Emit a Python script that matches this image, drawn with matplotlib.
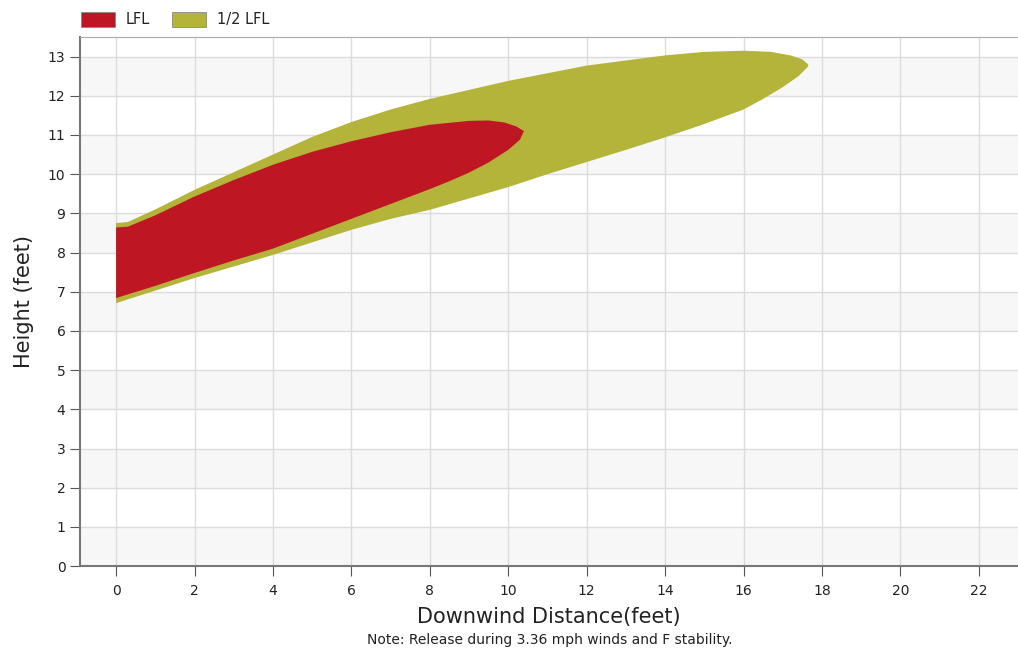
import numpy as np
import matplotlib.pyplot as plt
from matplotlib.patches import Rectangle

# LFL 플룸 경계 (downwind distance, height)
lfl_top_x = [0, 0.3, 1, 2, 3, 4, 5, 6, 7, 8, 9, 9.5, 9.9, 10.2, 10.4]
lfl_top_y = [8.64, 8.66, 8.95, 9.43, 9.85, 10.24, 10.57, 10.84, 11.07, 11.26, 11.36, 11.37, 11.32, 11.22, 11.1]
lfl_bot_x = [0, 1, 2, 3, 4, 5, 6, 7, 8, 8.5, 9, 9.5, 10, 10.3]
lfl_bot_y = [6.84, 7.15, 7.48, 7.8, 8.1, 8.48, 8.86, 9.24, 9.62, 9.82, 10.04, 10.3, 10.62, 10.88]

# 1/2 LFL 플룸 경계
half_top_x = [0, 0.3, 1, 2, 3, 4, 5, 6, 7, 8, 10, 12, 14, 15, 16, 16.7, 17.2, 17.5, 17.65]
half_top_y = [8.75, 8.78, 9.1, 9.6, 10.05, 10.5, 10.95, 11.33, 11.65, 11.92, 12.38, 12.77, 13.03, 13.12, 13.15, 13.12, 13.03, 12.93, 12.8]
half_bot_x = [0, 1, 2, 4, 6, 7, 8, 9, 10, 11, 12, 13, 14, 15, 16, 16.5, 17, 17.4, 17.65]
half_bot_y = [6.71, 7.03, 7.35, 7.94, 8.58, 8.86, 9.09, 9.38, 9.67, 10.0, 10.31, 10.62, 10.94, 11.28, 11.65, 11.92, 12.22, 12.5, 12.75]

xticks = np.arange(0, 23, 2)
yticks = np.arange(0, 14, 1)
legend_labels = ['LFL', '1/2 LFL']

red = '#BE1723'
olive = '#B4B33A'

fig = plt.figure(figsize=(10.18, 6.56), dpi=100)
ax = fig.add_axes([0.0786, 0.137, 0.9214, 0.8066])

# 줄무늬 배경
for y0 in range(0, 13, 2):
    ax.axhspan(y0, y0 + 1, color='#f7f7f7', zorder=0, lw=0)
ax.grid(True, color='#dcdcdc', lw=1, zorder=1)
ax.set_axisbelow(True)

ax.fill(half_top_x + half_bot_x[::-1], half_top_y + half_bot_y[::-1],
        color=olive, lw=0, zorder=2)
ax.fill(lfl_top_x + lfl_bot_x[::-1], lfl_top_y + lfl_bot_y[::-1],
        color=red, lw=0, zorder=3)

ax.set_xlim(-0.92, 23)
ax.set_ylim(0, 13.5)
ax.set_xticks(xticks)
ax.set_yticks(yticks)
ax.tick_params(axis='both', labelsize=10, length=7, color='#555555', labelcolor='#222222')
ax.tick_params(axis='x', pad=6)

for s in ['left', 'bottom']:
    ax.spines[s].set_color('#777777')
    ax.spines[s].set_linewidth(1.5)
ax.spines['top'].set_color('#aaaaaa')
ax.spines['right'].set_visible(False)

ax.set_xlabel('Downwind Distance(feet)', fontsize=15, labelpad=6, color='#222222')
ax.set_ylabel('Height (feet)', fontsize=15, labelpad=10, color='#222222')
fig.text(0.54, 0.024, 'Note: Release during 3.36 mph winds and F stability.',
         ha='center', va='center', fontsize=10, color='#222222')

# 범례 (축 위쪽)
W, H = 1018, 656
for (x0, tx), c, lab in zip([(81, 126), (172, 217)], [red, olive], legend_labels):
    fig.add_artist(Rectangle((x0 / W, 1 - 27 / H), 34 / W, 15 / H, transform=fig.transFigure,
                             facecolor=c, edgecolor='#888888', lw=0.6))
    fig.text(tx / W, 1 - 19.5 / H, lab, ha='left', va='center', fontsize=10.5, color='#222222')

fig.savefig('out.png', dpi=100)
